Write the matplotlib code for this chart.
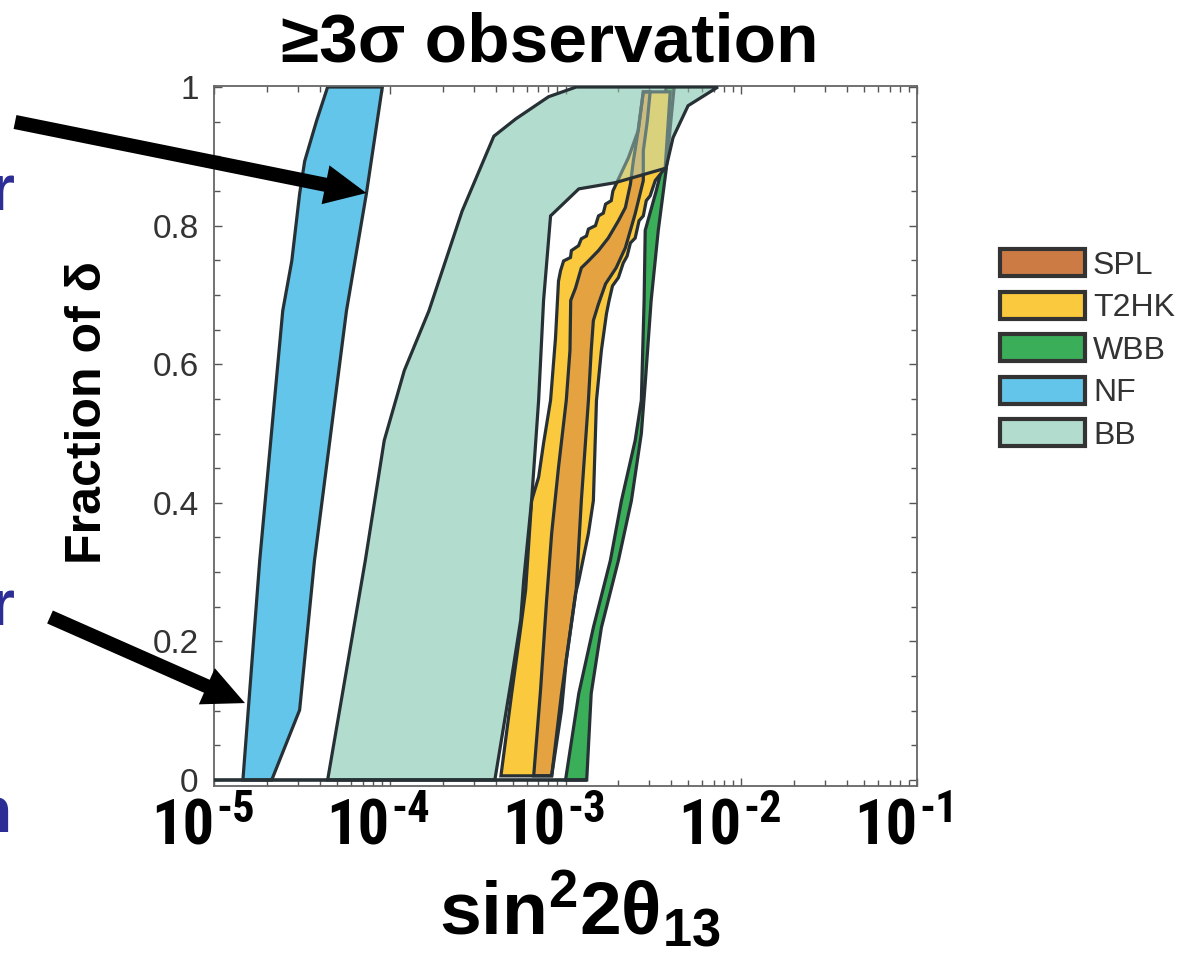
import numpy as np
import matplotlib
matplotlib.use('Agg')
import matplotlib.pyplot as plt
from matplotlib.patches import Polygon, Patch
from matplotlib.ticker import FixedLocator, FixedFormatter, MultipleLocator, LogLocator

# --- data: band edges, x = sin^2(2 theta13), y = fraction of delta ---
nf_left_x = [1.46e-5, 1.82e-5, 2.46e-5, 2.77e-5, 3.07e-5, 3.28e-5, 3.83e-5, 4.43e-5]
nf_left_y = [0.0, 0.317, 0.677, 0.749, 0.846, 0.893, 0.951, 1.0]
nf_right_x = [2.13e-5, 3.07e-5, 3.73e-5, 5.67e-5, 7.36e-5, 9.07e-5]
nf_right_y = [0.0, 0.101, 0.317, 0.677, 0.846, 1.0]

bb_left_x = [4.43e-5, 7.26e-5, 9.3e-5, 1.21e-4, 1.67e-4, 2.58e-4, 3.91e-4, 5.21e-4, 8.01e-4, 1.15e-3]
bb_left_y = [0.0, 0.317, 0.490, 0.591, 0.677, 0.821, 0.929, 0.954, 0.986, 1.0]
bb_right_x = [3.96e-4, 4.94e-4, 5.56e-4, 5.78e-4, 6.41e-4, 7.03e-4, 7.5e-4, 8.22e-4,
              1.19e-3, 1.92e-3, 3.73e-3, 4.09e-3, 4.98e-3, 7.36e-3]
bb_right_y = [0.0, 0.148, 0.231, 0.288, 0.403, 0.548, 0.692, 0.814,
              0.853, 0.862, 0.883, 0.927, 0.973, 1.0]

wbb_left_x = [1.0e-3, 1.19e-3, 1.44e-3, 1.80e-3, 2.08e-3, 2.49e-3, 2.70e-3, 2.80e-3, 2.84e-3, 3.28e-3, 3.50e-3, 3.73e-3]
wbb_left_y = [0.0, 0.125, 0.220, 0.317, 0.403, 0.490, 0.548, 0.692, 0.793, 0.850, 0.879, 1.0]
wbb_right_x = [1.32e-3, 1.40e-3, 1.60e-3, 2.0e-3, 2.37e-3, 2.70e-3, 2.84e-3, 3.07e-3, 3.37e-3, 3.73e-3, 4.15e-3]
wbb_right_y = [0.0, 0.125, 0.220, 0.317, 0.403, 0.5, 0.572, 0.692, 0.793, 0.879, 1.0]

t2hk_left_x = [4.29e-4, 4.94e-4, 5.56e-4, 5.93e-4, 6.41e-4, 7.03e-4, 7.50e-4, 8.22e-4, 8.77e-4, 9.12e-4,
               9.37e-4, 9.75e-4, 1.067e-3, 1.08e-3, 1.186e-3, 1.23e-3, 1.315e-3, 1.35e-3, 1.48e-3, 1.54e-3,
               1.64e-3, 1.69e-3, 1.82e-3, 1.86e-3, 1.94e-3, 2.28e-3, 2.59e-3, 2.77e-3]
t2hk_left_y = [0.006, 0.125, 0.220, 0.274, 0.403, 0.437, 0.486, 0.548, 0.638, 0.720,
               0.735, 0.749, 0.754, 0.764, 0.771, 0.781, 0.785, 0.795, 0.800, 0.814,
               0.818, 0.831, 0.836, 0.850, 0.860, 0.898, 0.937, 0.993]
t2hk_right_x = [8.34e-4, 9.49e-4, 1.14e-3, 1.19e-3, 1.35e-3, 1.44e-3, 1.50e-3, 1.60e-3, 1.71e-3, 1.77e-3,
                1.85e-3, 2.0e-3, 2.13e-3, 2.24e-3, 2.34e-3, 2.49e-3, 2.62e-3, 2.77e-3, 2.88e-3, 3.03e-3,
                3.24e-3, 3.69e-3, 3.94e-3]
t2hk_right_y = [0.006, 0.125, 0.269, 0.288, 0.356, 0.403, 0.548, 0.620, 0.673, 0.692,
                0.713, 0.725, 0.746, 0.756, 0.775, 0.782, 0.807, 0.814, 0.836, 0.843,
                0.865, 0.883, 0.993]

spl_left_x = [6.59e-4, 7.21e-4, 7.80e-4, 8.34e-4, 9.12e-4, 1.01e-3, 1.06e-3, 1.07e-3, 1.14e-3, 1.23e-3,
              1.35e-3, 1.54e-3, 1.75e-3, 2.0e-3, 2.19e-3, 2.34e-3, 2.43e-3, 2.59e-3, 2.77e-3]
spl_left_y = [0.006, 0.130, 0.259, 0.356, 0.451, 0.548, 0.620, 0.692, 0.710, 0.739,
              0.749, 0.764, 0.782, 0.807, 0.826, 0.860, 0.893, 0.937, 0.993]
spl_right_x = [8.34e-4, 9.49e-4, 1.01e-3, 1.15e-3, 1.23e-3, 1.35e-3, 1.40e-3, 1.44e-3, 1.54e-3, 1.69e-3,
               1.94e-3, 2.19e-3, 2.49e-3, 2.77e-3, 2.77e-3, 2.92e-3, 3.03e-3]
spl_right_y = [0.006, 0.101, 0.173, 0.274, 0.403, 0.548, 0.620, 0.663, 0.687, 0.716,
               0.739, 0.768, 0.817, 0.865, 0.908, 0.951, 0.993]

legend_names = ['SPL', 'T2HK', 'WBB', 'NF', 'BB']
legend_colors = ['#CD7B45', '#FBC93D', '#3BAE5A', '#63C5EA', '#B2DCCD']
ytick_vals = [0, 0.2, 0.4, 0.6, 0.8, 1.0]
ytick_labels = ['0', '0.2', '0.4', '0.6', '0.8', '1']
xtick_vals = [1e-5, 1e-4, 1e-3, 1e-2, 1e-1]

c_spl, c_t2hk, c_wbb, c_nf, c_bb = legend_colors
edge = '#263035'

plt.rcParams['font.family'] = ['Liberation Sans', 'DejaVu Sans']
plt.rcParams['mathtext.fontset'] = 'custom'
plt.rcParams['mathtext.bf'] = 'Liberation Sans:bold'
plt.rcParams['mathtext.rm'] = 'Liberation Sans'
plt.rcParams['mathtext.it'] = 'Liberation Sans:italic'


def band(lx, ly, rx, ry):
    # outline: left edge upwards, right edge back down
    xs = list(lx) + list(rx)[::-1]
    ys = list(ly) + list(ry)[::-1]
    return np.column_stack([xs, ys])


fig = plt.figure(figsize=(12.03, 9.56), dpi=100)
ax = fig.add_axes([0.1779, 0.1778, 0.5844, 0.7322])
ax.set_xscale('log')

nf = band(nf_left_x, nf_left_y, nf_right_x, nf_right_y)
bb = band(bb_left_x, bb_left_y, bb_right_x, bb_right_y)
wbb = band(wbb_left_x, wbb_left_y, wbb_right_x, wbb_right_y)
t2hk = band(t2hk_left_x, t2hk_left_y, t2hk_right_x, t2hk_right_y)
spl = band(spl_left_x, spl_left_y, spl_right_x, spl_right_y)

lw = 2.3
ax.add_patch(Polygon(bb, closed=True, fc=c_bb, ec='none', zorder=1))
ax.add_patch(Polygon(nf, closed=True, fc=c_nf, ec=edge, lw=lw, zorder=2))
ax.add_patch(Polygon(wbb, closed=True, fc=c_wbb, ec=edge, lw=lw, zorder=2))
ax.add_patch(Polygon(t2hk, closed=True, fc=c_t2hk, ec='none', zorder=3))
ax.add_patch(Polygon(spl, closed=True, fc=c_spl, ec='none', zorder=4))
# T2HK is semi-transparent over SPL -> orange band
ax.add_patch(Polygon(t2hk, closed=True, fc=c_t2hk, alpha=0.5, ec='none', zorder=5))
ax.add_patch(Polygon(t2hk, closed=True, fill=False, ec=edge, lw=lw, zorder=6))
ax.add_patch(Polygon(spl, closed=True, fill=False, ec=edge, lw=lw, zorder=6))
# BB drawn again translucent on top (pale top of the other bands)
ax.add_patch(Polygon(bb, closed=True, fc=c_bb, alpha=0.45, ec='none', zorder=7))
ax.add_patch(Polygon(bb, closed=True, fill=False, ec=edge, lw=lw, zorder=8))
ax.plot([xtick_vals[0], wbb_right_x[0]], [0, 0], color=edge, lw=2.6, zorder=9,
        solid_capstyle='butt')

ax.set_xlim(xtick_vals[0], xtick_vals[-1])
ax.set_ylim(-0.0087, 1.0014)

ax.yaxis.set_major_locator(FixedLocator(ytick_vals))
ax.yaxis.set_major_formatter(FixedFormatter(ytick_labels))
ax.yaxis.set_minor_locator(MultipleLocator(0.05))
ax.xaxis.set_major_locator(FixedLocator(xtick_vals))
ax.xaxis.set_minor_locator(LogLocator(base=10, subs=np.arange(2, 10), numticks=20))
ax.tick_params(which='both', direction='in', top=True, right=True, color='#555555', width=1)
ax.tick_params(which='major', length=6)
ax.tick_params(which='minor', length=4)
ax.tick_params(axis='y', labelsize=24, labelcolor='#333333', pad=11)
ax.tick_params(axis='x', labelbottom=False)
for s in ax.spines.values():
    s.set_color('#666666')
    s.set_linewidth(1.3)

# x tick labels: condensed bold "10" with exponent
narrow = dict(family=['Liberation Sans Narrow', 'Roboto Condensed', 'Liberation Sans'],
              fontweight='bold')
for v in xtick_vals:
    ax.annotate('10', xy=(v, 0), xycoords=('data', 'axes fraction'), xytext=(0, -42),
                textcoords='offset points', ha='right', va='baseline', fontsize=45,
                annotation_clip=False, **narrow)
    ax.annotate(str(int(round(np.log10(v)))), xy=(v, 0), xycoords=('data', 'axes fraction'),
                xytext=(1.5, -26), textcoords='offset points', ha='left', va='baseline',
                fontsize=32, annotation_clip=False, **narrow)

fig.text(550 / 1203, (956 - 62) / 956, '≥3σ observation', fontsize=50, fontweight='bold',
         ha='center', va='baseline')
fig.text(88 / 1203, (956 - 412) / 956, 'Fraction of δ', rotation=90, fontsize=36,
         fontweight='bold', ha='center', va='center')
fig.text(580 / 1203, 21 / 956, r'$\mathbf{sin^{2}2\theta_{13}}$', fontsize=54,
         ha='center', va='baseline')

# arrows pointing at the NF band
arrow = dict(arrowstyle='simple,head_length=1.0,head_width=0.95,tail_width=0.34',
             mutation_scale=30, fc='black', ec='black', lw=0, shrinkA=0, shrinkB=0)
ax.annotate('', xy=(7.36e-5, 0.847), xycoords='data', xytext=(15 / 1203, (956 - 122) / 956),
            textcoords='figure fraction', arrowprops=arrow, annotation_clip=False)
ax.annotate('', xy=(1.5e-5, 0.111), xycoords='data', xytext=(50 / 1203, (956 - 617) / 956),
            textcoords='figure fraction', arrowprops=arrow, annotation_clip=False)

# cut-off slide text at the left border
blue = '#2D2D96'
fig.text(14 / 1203, (956 - 210) / 956, 'r', fontsize=46, fontweight='bold', color=blue,
         ha='right', va='baseline')
fig.text(14 / 1203, (956 - 625) / 956, 'r', fontsize=46, fontweight='bold', color=blue,
         ha='right', va='baseline')
fig.text(12 / 1203, (956 - 832) / 956, 'n', fontsize=46, fontweight='bold', color=blue,
         ha='right', va='baseline')

handles = [Patch(fc=c, ec='#333333', lw=3) for c in legend_colors]
fig.legend(handles, legend_names, loc='upper left', bbox_to_anchor=(1000 / 1203, (956 - 249) / 956),
           frameon=False, fontsize=23, labelcolor='#333333', handlelength=2.66, handleheight=0.94,
           handletextpad=0.25, labelspacing=0.34, borderpad=0, borderaxespad=0)

fig.savefig('out.png', dpi=100)
